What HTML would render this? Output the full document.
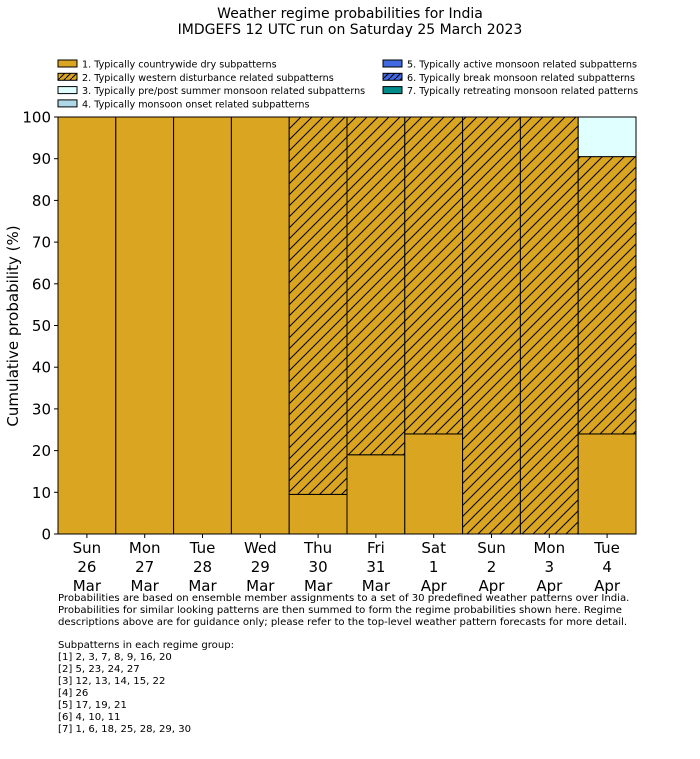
<!DOCTYPE html>
<html><head><meta charset="utf-8"><style>
body{margin:0;background:#fff;}
svg text{font-family:"DejaVu Sans","Liberation Sans",sans-serif;fill:#000;}
</style></head><body>
<svg width="700" height="754" viewBox="0 0 700 754" xmlns="http://www.w3.org/2000/svg">
<defs>
<pattern id="hatch" patternUnits="userSpaceOnUse" width="11" height="11">
<rect width="11" height="11" fill="#DAA520"/>
<path d="M-1,1 l2,-2 M0,11 l11,-11 M10,12 l2,-2" stroke="#000" stroke-width="1"/>
</pattern>
<pattern id="hatchb" patternUnits="userSpaceOnUse" width="6" height="6">
<rect width="6" height="6" fill="#4169E1"/>
<path d="M0,6 l6,-6" stroke="#000" stroke-width="1"/>
</pattern>
<pattern id="hatchs" patternUnits="userSpaceOnUse" width="6" height="6">
<rect width="6" height="6" fill="#DAA520"/>
<path d="M0,6 l6,-6" stroke="#000" stroke-width="1"/>
</pattern>
</defs>
<text x="350" y="18" font-size="14" text-anchor="middle">Weather regime probabilities for India</text>
<text x="350" y="34" font-size="14" text-anchor="middle">IMDGEFS 12 UTC run on Saturday 25 March 2023</text>
<g id="legend" font-size="9.6"></g>
<g id="plot"></g>
<text transform="translate(18,326) rotate(-90)" font-size="15" text-anchor="middle">Cumulative probability (%)</text>
<g font-size="10.1">
<text x="58" y="601">Probabilities are based on ensemble member assignments to a set of 30 predefined weather patterns over India.</text>
<text x="58" y="613">Probabilities for similar looking patterns are then summed to form the regime probabilities shown here. Regime</text>
<text x="58" y="625">descriptions above are for guidance only; please refer to the top-level weather pattern forecasts for more detail.</text>
<text x="58" y="648">Subpatterns in each regime group:</text>
<text x="58" y="660">[1] 2, 3, 7, 8, 9, 16, 20</text>
<text x="58" y="672">[2] 5, 23, 24, 27</text>
<text x="58" y="684">[3] 12, 13, 14, 15, 22</text>
<text x="58" y="696">[4] 26</text>
<text x="58" y="708">[5] 17, 19, 21</text>
<text x="58" y="720">[6] 4, 10, 11</text>
<text x="58" y="732">[7] 1, 6, 18, 25, 28, 29, 30</text>
</g>
</svg>
<script>
const days = ["Sun","Mon","Tue","Wed","Thu","Fri","Sat","Sun","Mon","Tue"];
const dates = ["26","27","28","29","30","31","1","2","3","4"];
const months = ["Mar","Mar","Mar","Mar","Mar","Mar","Apr","Apr","Apr","Apr"];
const dry = [100,100,100,100,9.5,19,24,0,0,24];
const western = [0,0,0,0,90.5,81,76,100,100,66.5];
const prepost = [0,0,0,0,0,0,0,0,0,9.5];
const yTicks = [0,10,20,30,40,50,60,70,80,90,100];
const legendLabels = ["1. Typically countrywide dry subpatterns","2. Typically western disturbance related subpatterns","3. Typically pre/post summer monsoon related subpatterns","4. Typically monsoon onset related subpatterns","5. Typically active monsoon related subpatterns","6. Typically break monsoon related subpatterns","7. Typically retreating monsoon related patterns"];
const NS="http://www.w3.org/2000/svg";
const X0=58,X1=636,Y0=534,Y1=117;
const bw=(X1-X0)/days.length;
const xs=i=>X0+i*bw;
const ys=v=>Y0-(v/100)*(Y0-Y1);
function mk(tag,attrs,parent){const e=document.createElementNS(NS,tag);for(const k in attrs)e.setAttribute(k,attrs[k]);parent.appendChild(e);return e;}
const plot=document.getElementById('plot');
const series=[[dry,"#DAA520","dry"],[western,"url(#hatch)","western"],[prepost,"#E0FFFF","prepost"]];
for(let i=0;i<days.length;i++){
  let base=0;
  for(const [arr,fill,nm] of series){
    const v=arr[i]; if(v<=0)continue;
    const r=mk('rect',{x:xs(i),y:ys(base+v),width:bw,height:ys(base)-ys(base+v),fill:fill,stroke:"#000","stroke-width":1},plot);
    
    
    base+=v;
  }
}
mk('rect',{x:X0,y:Y1,width:X1-X0,height:Y0-Y1,fill:"none",stroke:"#000","stroke-width":1},plot);
yTicks.forEach(t=>{
  const y=ys(t);
  mk('line',{x1:X0-4,x2:X0,y1:y,y2:y,stroke:"#000"},plot);
  const tx=mk('text',{x:X0-7,y:y+5.5,"font-size":15,"text-anchor":"end"},plot);
  tx.textContent=t;
  
  
});
days.forEach((d,i)=>{
  const cx=xs(i)+bw/2;
  mk('line',{x1:cx,x2:cx,y1:Y0,y2:Y0+4,stroke:"#000"},plot);
  [d,dates[i],months[i]].forEach((s,k)=>{
    const tx=mk('text',{x:cx,y:553+k*19,"font-size":15,"text-anchor":"middle"},plot);
    tx.textContent=s;
    
    
  });
});
const lg=document.getElementById('legend');
const lfills=["#DAA520","url(#hatchs)","#E0FFFF","#ADD8E6","#4169E1","url(#hatchb)","#008B8B"];
legendLabels.forEach((l,i)=>{
  const col=i<4?0:1, row=i<4?i:i-4;
  const x=col?383:58, y=60+row*13.3;
  const r=mk('rect',{x:x,y:y,width:19,height:7,fill:lfills[i],stroke:"#000","stroke-width":1},lg);
  
  
  const t=mk('text',{x:x+24,y:y+7.5},lg);
  t.textContent=l;
  
  
});
</script>
</body></html>
